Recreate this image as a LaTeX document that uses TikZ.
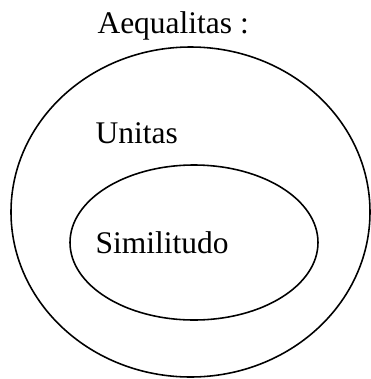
\documentclass[tikz,border=0pt]{standalone}
\usepackage{fontspec}
\setmainfont{Liberation Serif}
\usepackage{tikz}

\tikzset{word/.style={inner sep=0pt, anchor=base west, font=\fontsize{12}{14}\selectfont}}

\begin{document}
\begin{tikzpicture}[x=0.381pt, y=0.381pt]
    \useasboundingbox (0,0) rectangle (371,-379);
    \draw[line width=0.6pt] (190.5,-212) ellipse [x radius=179.5, y radius=165];
    \draw[line width=0.6pt] (194,-242.5) ellipse [x radius=124, y radius=77.5];
    \node[word] (aeq) at (97,-33) {Aequalitas :};
    \node[word] (uni) at (95,-143) {Unitas};
    \node[word] (sim) at (95,-253) {Similitudo};
\end{tikzpicture}
\end{document}
